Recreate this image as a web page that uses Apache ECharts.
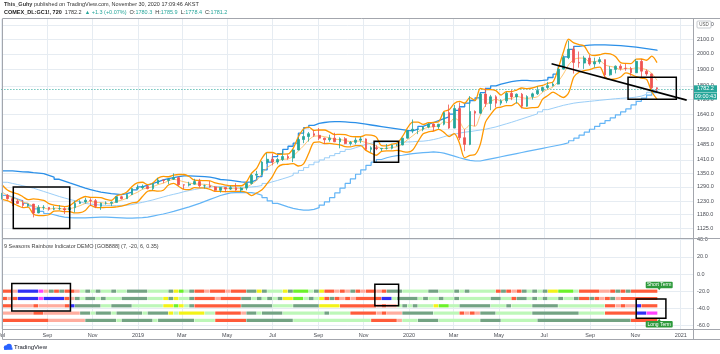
<!DOCTYPE html>
<html><head><meta charset="utf-8">
<script src="https://cdn.jsdelivr.net/npm/echarts@6.0.0/dist/echarts.min.js"></script>
<style>html,body{margin:0;padding:0;background:#fff;}#chart{width:720px;height:354px;}</style>
</head><body><div id="chart"></div>
<script>
// ---------------- data (weekly) ----------------
const weeks = ['2018-07-02','2018-07-09','2018-07-16','2018-07-23','2018-07-30','2018-08-06','2018-08-13','2018-08-20','2018-08-27','2018-09-03',
'2018-09-10','2018-09-17','2018-09-24','2018-10-01','2018-10-08','2018-10-15','2018-10-22','2018-10-29','2018-11-05','2018-11-12',
'2018-11-19','2018-11-26','2018-12-03','2018-12-10','2018-12-17','2018-12-24','2018-12-31','2019-01-07','2019-01-14','2019-01-21',
'2019-01-28','2019-02-04','2019-02-11','2019-02-18','2019-02-25','2019-03-04','2019-03-11','2019-03-18','2019-03-25','2019-04-01',
'2019-04-08','2019-04-15','2019-04-22','2019-04-29','2019-05-06','2019-05-13','2019-05-20','2019-05-27','2019-06-03','2019-06-10',
'2019-06-17','2019-06-24','2019-07-01','2019-07-08','2019-07-15','2019-07-22','2019-07-29','2019-08-05','2019-08-12','2019-08-19',
'2019-08-26','2019-09-02','2019-09-09','2019-09-16','2019-09-23','2019-09-30','2019-10-07','2019-10-14','2019-10-21','2019-10-28',
'2019-11-04','2019-11-11','2019-11-18','2019-11-25','2019-12-02','2019-12-09','2019-12-16','2019-12-23','2019-12-30','2020-01-06',
'2020-01-13','2020-01-20','2020-01-27','2020-02-03','2020-02-10','2020-02-17','2020-02-24','2020-03-02','2020-03-09','2020-03-16',
'2020-03-23','2020-03-30','2020-04-06','2020-04-13','2020-04-20','2020-04-27','2020-05-04','2020-05-11','2020-05-18','2020-05-25',
'2020-06-01','2020-06-08','2020-06-15','2020-06-22','2020-06-29','2020-07-06','2020-07-13','2020-07-20','2020-07-27','2020-08-03',
'2020-08-10','2020-08-17','2020-08-24','2020-08-31','2020-09-07','2020-09-14','2020-09-21','2020-09-28','2020-10-05','2020-10-12',
'2020-10-19','2020-10-26','2020-11-02','2020-11-09','2020-11-16','2020-11-23','2020-11-30'];
const lastBarEnd = '2020-12-01';

const opens = [1252,1255,1241,1231,1222,1214,1219,1184,1206,1206,
1199,1201,1201,1196,1205,1222,1228,1235,1233,1210,
1223,1223,1226,1249,1241,1258,1283,1287,1292,1283,
1304,1320,1318,1323,1330,1299,1298,1302,1313,1295,
1295,1290,1276,1288,1281,1287,1277,1285,1305,1341,
1345,1400,1413,1400,1412,1426,1419,1457,1508,1523,
1537,1529,1515,1507,1515,1497,1512,1488,1494,1505,
1511,1460,1468,1463,1465,1465,1481,1481,1515,1552,
1560,1560,1571,1587,1573,1586,1648,1566,1670,1517,
1484,1654,1645,1752,1698,1736,1700,1713,1756,1735,
1751,1683,1737,1753,1772,1790,1801,1810,1902,1975,
2030,1944,1940,1972,1934,1948,1962,1866,1900,1920,
1906,1905,1879,1951,1889,1872,1788];
const highs = [1265,1260,1246,1239,1236,1220,1220,1215,1215,1207,
1212,1215,1207,1210,1233,1235,1245,1243,1240,1225,
1230,1230,1251,1253,1262,1285,1300,1300,1298,1305,
1329,1322,1325,1349,1335,1301,1312,1325,1325,1300,
1315,1293,1290,1290,1295,1306,1289,1310,1347,1360,
1405,1442,1440,1420,1453,1436,1460,1519,1557,1546,
1555,1566,1517,1532,1542,1519,1520,1501,1518,1522,
1514,1475,1480,1466,1486,1483,1486,1516,1553,1611,
1562,1575,1591,1590,1588,1650,1692,1690,1704,1560,
1740,1660,1755,1788,1747,1745,1722,1765,1775,1755,
1758,1745,1760,1796,1795,1823,1820,1905,1990,2089,
2051,2015,1987,1992,1975,1979,1963,1920,1925,1933,
1935,1916,1966,1966,1900,1874,1790];
const lows = [1238,1237,1211,1220,1205,1207,1167,1183,1196,1193,
1195,1195,1180,1185,1186,1220,1221,1212,1203,1196,
1217,1211,1226,1238,1241,1256,1281,1280,1280,1276,
1303,1306,1302,1320,1295,1281,1292,1300,1287,1283,
1287,1271,1266,1268,1277,1274,1269,1276,1300,1326,
1340,1392,1385,1390,1405,1411,1400,1455,1490,1498,
1522,1505,1486,1497,1495,1465,1485,1478,1484,1490,
1456,1446,1456,1452,1459,1460,1475,1480,1513,1540,
1535,1550,1565,1550,1562,1580,1562,1565,1505,1451,
1480,1576,1640,1679,1661,1676,1688,1700,1717,1698,
1671,1680,1720,1746,1763,1780,1796,1808,1900,1965,
1874,1911,1903,1923,1911,1935,1848,1861,1875,1893,
1891,1860,1878,1850,1860,1781,1764];
const closes = [1255,1241,1231,1222,1214,1219,1184,1206,1206,1199,
1201,1201,1196,1205,1222,1228,1235,1233,1210,1223,
1223,1226,1249,1241,1258,1283,1287,1292,1283,1304,
1320,1318,1323,1330,1299,1298,1302,1313,1295,1295,
1290,1276,1288,1281,1287,1277,1285,1305,1341,1345,
1400,1413,1400,1412,1426,1419,1457,1508,1523,1537,
1529,1515,1507,1515,1497,1512,1488,1494,1505,1511,
1460,1468,1463,1465,1465,1481,1481,1515,1552,1560,
1560,1571,1587,1573,1586,1648,1566,1670,1517,1484,
1654,1645,1752,1698,1736,1700,1713,1756,1735,1751,
1683,1737,1753,1772,1790,1801,1810,1902,1975,2030,
1944,1940,1972,1934,1948,1962,1866,1900,1920,1906,
1905,1879,1951,1889,1872,1788,1782];

// orange bands (upper / basis / lower)
const bandUpper = [1298,1277,1267,1261,1249,1237,1240,1238,1234,1221,
1215,1212,1209,1213,1228,1241,1250,1246,1246,1245,
1238,1234,1252,1259,1269,1292,1307,1310,1300,1307,
1328,1336,1334,1341,1344,1344,1335,1319,1318,1317,
1316,1307,1303,1298,1295,1295,1295,1311,1350,1373,
1418,1445,1445,1436,1437,1438,1465,1522,1562,1571,
1554,1556,1556,1545,1533,1534,1533,1524,1522,1522,
1531,1530,1520,1478,1477,1485,1491,1522,1567,1597,
1597,1585,1594,1595,1599,1654,1663,1698,1710,1700,
1731,1715,1784,1777,1778,1772,1746,1766,1766,1775,
1787,1783,1787,1796,1803,1815,1823,1906,2012,2099,
2073,2062,2052,1998,1989,1994,2003,1999,1982,1943,
1938,1937,1965,1966,1958,1985,1943];
const bandBasis = [1268,1255,1245,1237,1227,1222,1210,1206,1204,1199,
1203,1202,1199,1201,1206,1213,1222,1230,1226,1225,
1222,1220,1230,1235,1243,1258,1267,1280,1286,1291,
1300,1306,1316,1323,1318,1312,1307,1303,1302,1301,
1298,1289,1287,1284,1283,1283,1283,1289,1302,1319,
1348,1375,1390,1406,1413,1414,1429,1452,1477,1506,
1524,1526,1522,1517,1509,1508,1503,1498,1500,1500,
1493,1486,1476,1464,1465,1469,1473,1486,1507,1527,
1547,1561,1570,1573,1579,1599,1593,1618,1600,1560,
1581,1575,1634,1687,1708,1722,1712,1726,1726,1739,
1731,1727,1731,1736,1763,1779,1793,1826,1872,1929,
1963,1972,1972,1948,1949,1954,1928,1919,1912,1898,
1908,1903,1910,1906,1898,1875,1833];
const bandLower = [1238,1233,1223,1213,1205,1207,1180,1174,1174,1177,
1191,1192,1189,1189,1184,1185,1194,1214,1206,1205,
1206,1206,1208,1211,1217,1224,1227,1250,1272,1275,
1272,1276,1298,1305,1292,1280,1279,1287,1286,1285,
1280,1271,1271,1270,1271,1271,1271,1267,1254,1265,
1278,1305,1335,1376,1389,1390,1393,1382,1392,1441,
1494,1496,1488,1489,1485,1482,1473,1472,1478,1478,
1455,1442,1432,1450,1453,1453,1455,1450,1447,1457,
1497,1537,1546,1551,1559,1544,1523,1538,1490,1420,
1431,1435,1484,1597,1638,1672,1678,1686,1686,1703,
1675,1671,1675,1676,1723,1743,1763,1746,1732,1759,
1853,1882,1892,1898,1909,1914,1853,1839,1842,1853,
1878,1869,1855,1846,1838,1765,1723];

// blue weekly channel (upper / middle / lower)
const chanUpper = [1360,1360,1358,1356,1355,1352,1350,1348,
1340,1332,1323,1315,1307,1300,1292,1285,1279,1273,1268,1265,
1262,1260,1258,1262,1268,1278,1290,
1298,1305,1312,1320,1326,1330,1335,
1338,1338,1337,1336,1335,1332,1328,1322,1320,1318,1315,1312,1310,1312,
1320,1335,1365,1400,1425,1440,1460,1475,1490,1540,1568,1580,1590,
1595,1598,1600,1600,1598,1596,1594,1590,1586,1582,1578,1574,1570,1566,1562,1558,1554,1552,
1560,1575,1585,1595,1605,1615,1625,1640,1660,1680,1700,1715,1730,1760,
1785,1800,1810,1818,1825,1830,1832,1832,1830,1830,1832,1836,
1850,1870,1920,1980,2030,2050,
2055,2058,2060,2060,2060,2058,2056,2054,2051,2048,2044,2040,2035,2030,2025,2020];
const chanMiddle = [1310,1305,1300,1295,1290,1285,1278,1271,1264,1257,
1250,1244,1238,1233,1228,1222,1219,1217,1215,1214,
1213,1213,1214,1215,1217,1222,1226,1231,1236,1242,
1248,1254,1259,1264,1270,1275,1279,1283,1288,1290,
1292,1292,1292,1291,1290,1289,1289,1290,1292,1296,
1305,1312,1318,1325,1332,1340,1350,1362,1375,1388,
1400,1410,1420,1430,1440,1450,1460,1468,1476,1484,
1490,1493,1495,1496,1496,1495,1495,1496,1497,1499,
1500,1503,1508,1514,1522,1530,1535,1540,1545,1548,
1552,1556,1560,1566,1572,1580,1588,1596,1605,1614,
1623,1632,1641,1652,1664,1672,1680,1688,1694,1700,
1704,1707,1710,1713,1716,1719,1722,1725,1727,1729,
1731,1734,1740,1750,1762,1775,1790];
const chanLower = [1255,1248,1240,1232,1222,1212,1200,1190,
1182,1177,1172,1168,1166,1165,1165,1165,1166,
1167,1168,1168,1167,1166,1165,1164,1164,1165,1166,
1168,1172,1176,1180,1185,1190,1196,
1202,1208,1215,1222,1230,1238,1246,1254,1260,1265,1266,1266,1266,1266,
1262,1255,1245,1232,1222,1215,1208,1202,1198,1195,1195,1198,1205,
1215,1228,1245,1265,1285,1305,1325,1345,1365,1385,1400,1412,1420,1426,1430,1432,1436,1440,
1442,1444,1446,1448,1446,1442,1435,1428,1420,1414,1408,1405,1405,1410,
1415,1420,1425,1430,1435,1440,1445,1450,1455,1460,1465,1470,
1475,1480,1485,1492,1502,1515,
1530,1545,1560,1575,1590,1605,1620,1636,1652,1668,1690,1710,1728,1745,1760,1775];

// 9 Seasons Rainbow indicator: one colour code per week for each of the 5 rows
const rainbowRows = [
 'RRPBBBBMPG'+'RGRRPLGLGL'+'LGLLGGGGLL'+'LLGYNLGRRP'+'RRRPRRRGGY'+'GLLLYGNNNL'+'GYRRPRPGRP'+'RRPRGGGLLL'+'LLGGLLLGLG'+'LLLLLRGRPR'+'GLGLGYYNNN'+'LRRRRPPRGR'+'GRRRRRR',
 'RPRBBBBMBB'+'BBRPGLGGLG'+'LLLGGGGGLL'+'LYGYLLGRRR'+'RPRRRRGGLG'+'LGLGYYNNLG'+'LYRGRPRPRR'+'RRRBBLGGGG'+'LGLLGLLGLL'+'LLLLGGLLRG'+'GLGLGLLGLL'+'GRRGRPRGPR'+'RRRRRRR',
 'RRPPPPRPPP'+'PPRBGGGGGL'+'LGGGGLLLLL'+'LYYNYLGRRR'+'RRRRRRGGGG'+'GGLLLLGGGG'+'GYYYYRRRRR'+'RRPRPPLGLG'+'LLLYNNLLGG'+'GGGGLLLGLL'+'LLGGGGGLLL'+'LLLLLLRRPR'+'PPBRRRR',
 'PPPPPPRRPP'+'PPPPPGGLGG'+'GLGGGGGLGG'+'GGYLYYYYYL'+'LRRRRRPGGL'+'GGGGLLLLLL'+'LLGLLLLRRR'+'RRPRPPPGGG'+'GGGLLLLLRP'+'RPGGGLLLLL'+'LLGGGGGGGG'+'GLLLLLRRRR'+'RRBBMMM',
 'RRRRRRRRRP'+'PPPPPPGGGG'+'GGLGGGGGGL'+'GGGGGGGLLL'+'LRRRRRRGGG'+'GGGGGGLLLL'+'LLLLLLLLLL'+'LRRRRRPLLL'+'GGGGLLLLLL'+'LLGGGGLLLL'+'LLLGGGGGGG'+'GGGGGGGGGG'+'GRRRRRR'
];
const rainbowLevels = [-20, -28.5, -37, -45.5, -54];

// axes
const priceTicks = [2200,2100,2000,1900,1800,1720,1640,1560,1485,1410,1350,1290,1230,1180,1125];
const oscTicks = [40,20,0,-20,-40,-60];
const monthTicks = ['2018-07-01','2018-09-01','2018-11-01','2019-01-01','2019-03-01','2019-05-01','2019-07-01','2019-09-01','2019-11-01','2020-01-01','2020-03-01','2020-05-01','2020-07-01','2020-09-01','2020-11-01','2021-01-01'];
const lastPrice = 1782.2;
const countdown = '09:00:43';

// user drawings (date, value)
const boxesMain = [[['2018-07-17',1290],['2018-10-01',1125]],[['2019-11-15',1500],['2019-12-18',1399]],[['2020-10-22',1852],['2020-12-26',1722]]];
const boxesOsc = [[['2018-07-15',-11],['2018-10-02',-43]],[['2019-11-16',-12],['2019-12-18',-37]],[['2020-11-02',-29],['2020-12-12',-51.5]]];
const trendLine = [['2020-07-11',1935],['2021-01-09',1717]];

// ---------------- chart ----------------
const FONT = '"Liberation Sans", Arial, sans-serif';
const t = s => { const p = s.split('-').map(Number); return new Date(p[0], p[1]-1, p[2]).getTime(); };
const X0 = t('2018-07-01'), X1 = t('2021-01-17') + 12*3600e3;
const monthT = monthTicks.map(t);
const MN = ['Jan','Feb','Mar','Apr','May','Jun','Jul','Aug','Sep','Oct','Nov','Dec'];
const fmtMonth = v => { const d = new Date(v); return d.getMonth() === 0 ? String(d.getFullYear()) : MN[d.getMonth()]; };
const gridColor = '#e6ecf2';
const txtColor = '#4a4d55';

const candleData = weeks.map((d,i)=>[t(d), opens[i], closes[i], lows[i], highs[i]]);
const ser = arr => weeks.map((d,i)=>[t(d), arr[i]]);

const rainbowColors = {R:'#ff5b3a', P:'#ffad9f', G:'#73a383', L:'#bdf7b8', Y:'#f3f318', N:'#6cf22a', B:'#2f2ff5', M:'#ff42ff'};
const rainbowData = [];
rainbowRows.forEach((row, r) => {
  let s = 0;
  for (let i = 1; i <= row.length; i++) {
    if (i === row.length || row[i] !== row[s]) {
      const st = t(weeks[s]);
      const en = i < weeks.length ? t(weeks[i]) : t(lastBarEnd);
      rainbowData.push({value:[st, en, rainbowLevels[r]], itemStyle:{color: rainbowColors[row[s]]}});
      s = i;
    }
  }
});

const boxArea = boxes => boxes.map(b => [{coord:[t(b[0][0]), b[0][1]]},{coord:[t(b[1][0]), b[1][1]]}]);

const chart = echarts.init(document.getElementById('chart'), null, {renderer:'canvas'});
const option = {
  animation:false,
  backgroundColor:'#ffffff',
  textStyle:{fontFamily:FONT},
  grid:[
    {left:1.4, right:27, top:19, height:219.5, outerBoundsMode:'none', containLabel:false},
    {left:1.4, right:27, top:239, height:90, outerBoundsMode:'none', containLabel:false}
  ],
  xAxis:[
    {type:'value', gridIndex:0, min:X0, max:X1, axisLine:{show:false}, axisTick:{show:false, customValues:monthT},
     axisLabel:{show:false, customValues:monthT}, splitLine:{show:true, lineStyle:{color:gridColor, width:1}}},
    {type:'value', gridIndex:1, min:X0, max:X1, axisLine:{show:false}, axisTick:{show:false, customValues:monthT},
     axisLabel:{show:true, customValues:monthT, formatter:fmtMonth, fontSize:5.5, color:txtColor, margin:3, fontFamily:FONT, showMinLabel:true, showMaxLabel:true},
     splitLine:{show:true, lineStyle:{color:gridColor, width:1}}}
  ],
  yAxis:[
    {type:'log', gridIndex:0, min:1088.5, max:2243, position:'right', axisLine:{show:false}, axisTick:{show:false},
     axisLabel:{show:false}, splitLine:{show:false}},
    {type:'value', gridIndex:1, min:-64, max:40.7, position:'right', axisLine:{show:false},
     axisTick:{show:false, customValues:oscTicks},
     axisLabel:{customValues:oscTicks, formatter:v=>v.toFixed(1), fontSize:5.5, color:txtColor, margin:4, fontFamily:FONT},
     splitLine:{show:true, lineStyle:{color:gridColor, width:1}}}
  ],
  series:[
    {type:'line', name:'grid', xAxisIndex:0, yAxisIndex:0, data:[[t(weeks[0]), closes[0]]], symbol:'none', lineStyle:{opacity:0}, z:1,
     markLine:{silent:true, symbol:['none','none'], z:1, animation:false,
       lineStyle:{color:gridColor, width:1, type:'solid'},
       label:{show:true, position:'end', distance:4, formatter:p=>Number(p.value).toFixed(1), fontSize:5.5, color:txtColor, fontFamily:FONT},
       emphasis:{disabled:true},
       data:priceTicks.map(v=>({yAxis:v}))}},
    {type:'line', name:'chanMiddle', data:ser(chanMiddle), step:'end', symbol:'none', lineStyle:{color:'#90c8f6', width:0.9}, z:2},
    {type:'line', name:'chanLower', data:ser(chanLower), step:'end', symbol:'none', lineStyle:{color:'#64b5f6', width:1.2}, z:2},
    {type:'line', name:'chanUpper', data:ser(chanUpper), step:'end', symbol:'none', lineStyle:{color:'#2a8fe8', width:1.3}, z:2},
    {type:'line', name:'bandBasis', data:ser(bandBasis), smooth:0.3, symbol:'none', lineStyle:{color:'#ffb74d', width:0.8}, z:3},
    {type:'line', name:'bandUpper', data:ser(bandUpper), smooth:0.3, symbol:'none', lineStyle:{color:'#ff9800', width:1.3}, z:3},
    {type:'line', name:'bandLower', data:ser(bandLower), smooth:0.3, symbol:'none', lineStyle:{color:'#ff9800', width:1.3}, z:3},
    {type:'candlestick', name:'GC1!', data:candleData, encode:{x:0, y:[1,2,3,4]}, barWidth:2.2, z:4,
     itemStyle:{color:'#26a69a', color0:'#ef5350', borderColor:'#26a69a', borderColor0:'#ef5350', borderWidth:0.8},
     markLine:{silent:true, symbol:['none','none'], animation:false, z:3,
       lineStyle:{color:'#26a69a', width:1, type:[1,2]}, label:{show:false}, data:[{yAxis:lastPrice}]}},
    {type:'line', name:'trend', data:trendLine.map(p=>[t(p[0]), p[1]]), symbol:'none', lineStyle:{color:'#000', width:1.6}, z:6,
     markArea:{silent:true, z:6, itemStyle:{color:'rgba(0,0,0,0)', borderColor:'#000', borderWidth:1.5}, data:boxArea(boxesMain)}},
    {type:'custom', name:'rainbow', xAxisIndex:1, yAxisIndex:1, encode:{x:[0,1], y:2}, z:3,
     renderItem:(params, api) => {
       const p0 = api.coord([api.value(0), api.value(2)]);
       const p1 = api.coord([api.value(1), api.value(2)]);
       const h = 3.2;
       return {type:'rect', shape:{x:p0[0], y:p0[1]-h/2, width:Math.max(p1[0]-p0[0]-0.4, 0.6), height:h},
               style:{fill:api.visual('color')}};
     },
     data:rainbowData},
    {type:'line', name:'oscBoxes', xAxisIndex:1, yAxisIndex:1, data:[[t(weeks[0]), 100]], symbol:'none', lineStyle:{opacity:0}, z:6,
     markArea:{silent:true, z:6, itemStyle:{color:'rgba(0,0,0,0)', borderColor:'#000', borderWidth:1.5}, data:boxArea(boxesOsc)}}
  ]
};
chart.setOption(option);

// ---------------- decorations ----------------
const py = chart.convertToPixel({yAxisIndex:0}, lastPrice);
const stX = chart.convertToPixel({xAxisIndex:1}, t('2020-12-03'));
const stY = chart.convertToPixel({yAxisIndex:1}, rainbowLevels[0]);
const ltY = chart.convertToPixel({yAxisIndex:1}, rainbowLevels[4]);
const borderC = '#a3a6ad';
const ln = (x1,y1,x2,y2) => ({type:'line', silent:true, z:50, shape:{x1,y1,x2,y2}, style:{stroke:borderC, lineWidth:1}});
const teal = '#26a69a';
const graphics = [
  {type:'text', x:4, y:4.5, z:50, style:{text:'{b|This_Guhy} published on TradingView.com, November 30, 2020 17:09:46 AKST', fill:'#333', fontSize:5.5, fontFamily:FONT, verticalAlign:'middle',
     rich:{b:{fontWeight:'bold', fill:'#333', fontSize:5.5, fontFamily:FONT}}}},
  {type:'text', x:4, y:12.5, z:50, style:{text:'{b|COMEX_DL:GC1!, 720}  1782.2  {t|▲ +1.3 (+0.07%)}  O:{t|1780.3}  H:{t|1785.9}  L:{t|1778.4}  C:{t|1781.2}', fill:'#333', fontSize:5.5, fontFamily:FONT, verticalAlign:'middle',
     rich:{b:{fontWeight:'bold', fill:'#222', fontSize:5.5, fontFamily:FONT}, t:{fill:teal, fontSize:5.5, fontFamily:FONT}}}},
  ln(2.5,18.5,720,18.5), ln(2.5,18.5,2.5,339.5), ln(693.5,18.5,693.5,339.5),
  ln(2.5,238.5,720,238.5), ln(2.5,329.5,720,329.5), ln(2.5,339.5,720,339.5),
  {type:'rect', z:50, shape:{x:697, y:21, width:14, height:7, r:1}, style:{fill:'#fff', stroke:'#b8bbc2', lineWidth:0.8}},
  {type:'text', z:51, x:704, y:24.6, style:{text:'USD', fontSize:4.5, fill:'#555', fontFamily:FONT, align:'center', verticalAlign:'middle'}},
  {type:'rect', z:50, shape:{x:694, y:py-3.5, width:23, height:7}, style:{fill:teal}},
  {type:'text', z:51, x:705.5, y:py, style:{text:String(lastPrice.toFixed(1)), fontSize:5.5, fill:'#fff', fontFamily:FONT, align:'center', verticalAlign:'middle'}},
  {type:'rect', z:50, shape:{x:694, y:py+3.8, width:23, height:7}, style:{fill:teal}},
  {type:'text', z:51, x:705.5, y:py+7.3, style:{text:countdown, fontSize:5.5, fill:'#fff', fontFamily:FONT, align:'center', verticalAlign:'middle'}},
  {type:'text', z:50, x:4, y:246, style:{text:'9 Seasons Rainbow Indicator DEMO [GOB888] (7, -20, 6, 0.35)', fontSize:5.5, fill:'#444', fontFamily:FONT, verticalAlign:'middle'}},
  {type:'rect', z:50, shape:{x:stX-13.5, y:stY-9.5, width:27, height:6.5, r:1}, style:{fill:'#2e9a3c'}},
  {type:'polygon', z:50, shape:{points:[[stX-1.5,stY-3.2],[stX+1.5,stY-3.2],[stX,stY-1]]}, style:{fill:'#2e9a3c'}},
  {type:'text', z:51, x:stX, y:stY-6.2, style:{text:'Short Term', fontSize:5, fill:'#fff', fontFamily:FONT, align:'center', verticalAlign:'middle'}},
  {type:'rect', z:50, shape:{x:stX-13.5, y:ltY+0.5, width:27, height:6.5, r:1}, style:{fill:'#2e9a3c'}},
  {type:'polygon', z:50, shape:{points:[[stX-1.5,ltY+0.6],[stX+1.5,ltY+0.6],[stX,ltY-1.6]]}, style:{fill:'#2e9a3c'}},
  {type:'text', z:51, x:stX, y:ltY+3.8, style:{text:'Long Term', fontSize:5, fill:'#fff', fontFamily:FONT, align:'center', verticalAlign:'middle'}},
  {type:'circle', z:50, shape:{cx:6, cy:347.5, r:2.2}, style:{fill:'#2962ff'}},
  {type:'circle', z:50, shape:{cx:9, cy:346.5, r:2.8}, style:{fill:'#2962ff'}},
  {type:'rect', z:50, shape:{x:4, y:347.5, width:8.5, height:2.3}, style:{fill:'#2962ff'}},
  {type:'text', z:50, x:14, y:347.8, style:{text:'TradingView', fontSize:6, fill:'#131722', fontFamily:FONT, verticalAlign:'middle'}}
];
chart.setOption({graphic:graphics});
</script></body></html>
